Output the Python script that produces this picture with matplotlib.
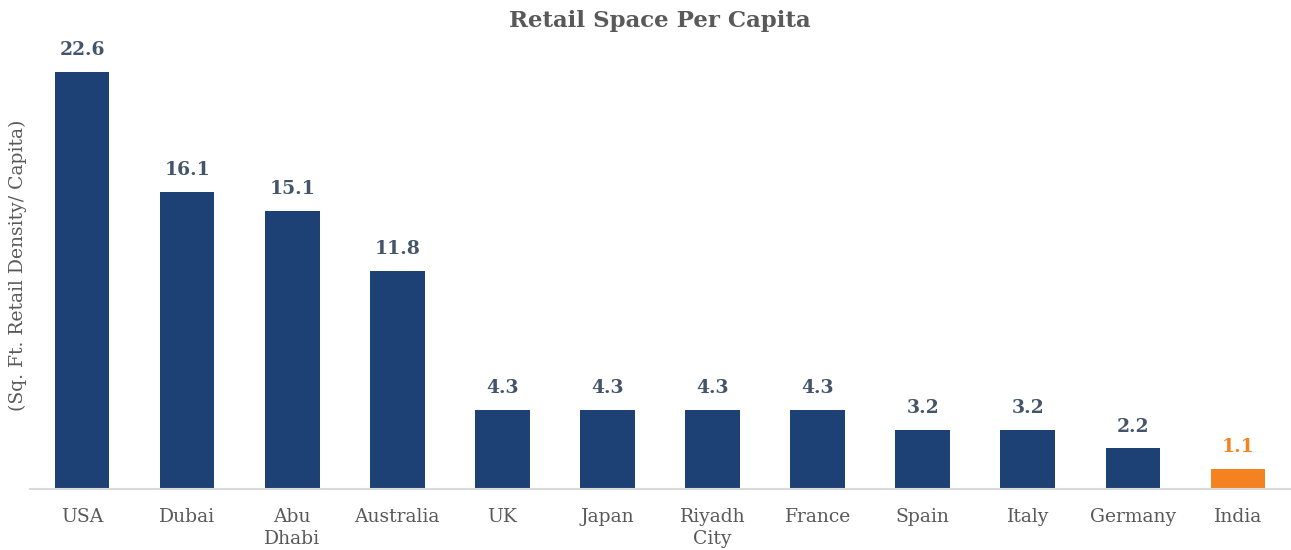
import matplotlib.pyplot as plt

# retail space per capita (sq. ft.)
countries = ["USA", "Dubai", "Abu\nDhabi", "Australia", "UK", "Japan",
             "Riyadh\nCity", "France", "Spain", "Italy", "Germany", "India"]
values = [22.6, 16.1, 15.1, 11.8, 4.3, 4.3, 4.3, 4.3, 3.2, 3.2, 2.2, 1.1]
highlight = "India"

navy = "#1D4174"
orange = "#F58220"
label_col = "#44546A"
grey = "#595959"

plt.rcParams['font.family'] = ['DejaVu Serif']

fig = plt.figure(figsize=(12.91, 5.5), dpi=100, facecolor='white')
ax = fig.add_axes([29.5 / 1291, 61 / 550, 1261 / 1291, 461 / 550])

colors = [orange if c == highlight else navy for c in countries]
x = range(len(countries))
bars = ax.bar(x, values, width=0.52, color=colors)

for b, v, c in zip(bars, values, colors):
    tc = orange if c == orange else label_col
    ax.text(b.get_x() + b.get_width() / 2, v + 0.7, f"{v:.1f}",
            ha='center', va='bottom', fontsize=13.5, fontweight='bold', color=tc)

ax.set_xlim(-0.5, len(countries) - 0.5)
ax.set_ylim(0, 25)
ax.set_xticks(list(x))
ax.set_xticklabels(countries, fontsize=13.5, color=grey, linespacing=1.25)
ax.tick_params(axis='x', length=0, pad=14)
ax.set_yticks([])

for s in ['top', 'right', 'left']:
    ax.spines[s].set_visible(False)
ax.spines['bottom'].set_color('#D9D9D9')
ax.spines['bottom'].set_linewidth(1.5)

fig.text(18 / 1291, 1 - 265 / 550, "(Sq. Ft. Retail Density/ Capita)", rotation=90,
         ha='center', va='center', fontsize=13.5, color=grey)
fig.text(660 / 1291, 1 - 21 / 550, "Retail Space Per Capita", ha='center', va='center',
         fontsize=16.5, fontweight='bold', color=grey)

fig.savefig("out.png", dpi=100, facecolor='white')
